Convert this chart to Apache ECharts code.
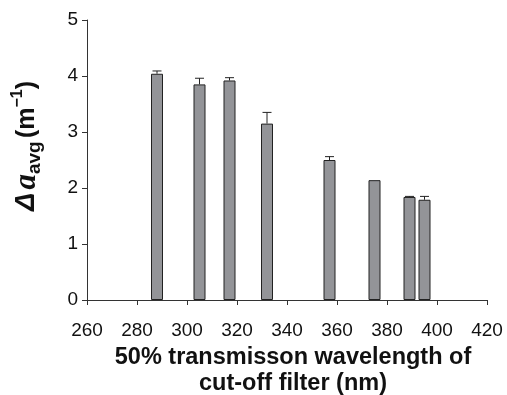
<!DOCTYPE html>
<html>
<head>
<meta charset="utf-8">
<script src="https://cdn.jsdelivr.net/npm/echarts@6/dist/echarts.min.js"></script>
<style>
html, body { margin: 0; padding: 0; background: #fff; }
#container { width: 507px; height: 395px; }
</style>
</head>
<body>
<div id="container"></div>
<script>
// 截止滤光片的50%透射波长 (nm)
var wavelengths = [288, 305, 317, 332, 357, 375, 389, 395];
// Δa_avg 平均值 (m^-1)
var deltaAvg = [4.04, 3.85, 3.92, 3.15, 2.50, 2.14, 1.84, 1.79];
// 误差棒（只画向上的部分）
var errUp = [0.05, 0.11, 0.05, 0.20, 0.06, 0.00, 0.01, 0.06];
// 刻度
var xTicks = [260, 280, 300, 320, 340, 360, 380, 400, 420];
var yTicks = [0, 1, 2, 3, 4, 5];

var barData = [];
var errData = [];
for (var i = 0; i < wavelengths.length; i++) {
	barData.push([wavelengths[i], deltaAvg[i]]);
	errData.push([wavelengths[i], deltaAvg[i], deltaAvg[i] + errUp[i]]);
}

var dom = document.getElementById("container");
var myChart = echarts.init(dom);

var option = {
	animation: false,
	grid: { left: 87, right: 20, top: 20, bottom: 95, outerBoundsMode: 'none' },
	xAxis: {
		type: 'value',
		min: xTicks[0],
		max: xTicks[xTicks.length - 1],
		interval: 20,
		splitLine: { show: false },
		axisLine: { show: true, lineStyle: { color: '#333', width: 1 } },
		axisTick: { show: true, inside: false, length: 5, lineStyle: { color: '#333' } },
		axisLabel: { color: '#111', fontSize: 19, fontFamily: 'Liberation Sans', margin: 21 },
		name: '50% transmisson wavelength of\ncut-off filter (nm)',
		nameLocation: 'middle',
		nameGap: 33,
		nameTextStyle: {
			color: '#111', fontSize: 23.5, fontWeight: 'bold',
			fontFamily: 'Liberation Sans', lineHeight: 26,
			verticalAlign: 'top', padding: [0, 0, 0, 12]
		}
	},
	yAxis: {
		type: 'value',
		min: yTicks[0],
		max: yTicks[yTicks.length - 1],
		interval: 1,
		splitLine: { show: false },
		axisLine: { show: true, lineStyle: { color: '#333', width: 1 } },
		axisTick: { show: true, inside: false, length: 5, lineStyle: { color: '#333' } },
		axisLabel: { color: '#111', fontSize: 19, fontFamily: 'Liberation Sans', margin: 9 },
		name: '{d|Δ} {a|a}{s|avg} {n|(m}{p|−1}{n|)}',
		nameLocation: 'middle',
		nameGap: 43,
		nameRotate: 90,
		nameTextStyle: {
			color: '#111',
			fontFamily: 'Liberation Sans',
			padding: [0, 0, 0, 28],
			rich: {
				d: { fontSize: 27, fontStyle: 'italic', fontWeight: 'bold', color: '#111', fontFamily: 'Liberation Sans', lineHeight: 34 },
				a: { fontSize: 31, fontStyle: 'italic', fontWeight: 'bold', color: '#111', fontFamily: 'Liberation Serif', lineHeight: 34 },
				s: { fontSize: 19, fontWeight: 'bold', color: '#111', fontFamily: 'Liberation Sans', verticalAlign: 'bottom', lineHeight: 34, padding: [10, 0, 0, 0] },
				n: { fontSize: 25, fontWeight: 'bold', color: '#111', fontFamily: 'Liberation Sans', lineHeight: 34 },
				p: { fontSize: 16, fontWeight: 'bold', color: '#111', fontFamily: 'Liberation Sans', verticalAlign: 'top', lineHeight: 34, padding: [0, 0, 12, 0] }
			}
		}
	},
	series: [{
		name: 'bars',
		type: 'bar',
		data: barData,
		barWidth: 12,
		itemStyle: { color: '#939498', borderColor: '#222', borderWidth: 1 },
		z: 2
	}, {
		name: 'err',
		type: 'custom',
		data: errData,
		encode: { x: 0, y: [1, 2] },
		z: 3,
		renderItem: function (params, api) {
			var x = api.value(0);
			var lo = api.coord([x, api.value(1)]);
			var hi = api.coord([x, api.value(2)]);
			if (Math.abs(lo[1] - hi[1]) < 0.5) {
				return null;
			}
			var half = 4.5;
			var style = { stroke: '#222', lineWidth: 1, fill: null };
			return {
				type: 'group',
				children: [{
					type: 'line',
					shape: { x1: lo[0], y1: lo[1], x2: hi[0], y2: hi[1] },
					style: style
				}, {
					type: 'line',
					shape: { x1: hi[0] - half, y1: hi[1], x2: hi[0] + half, y2: hi[1] },
					style: style
				}]
			};
		}
	}]
};

myChart.setOption(option);
</script>
</body>
</html>
